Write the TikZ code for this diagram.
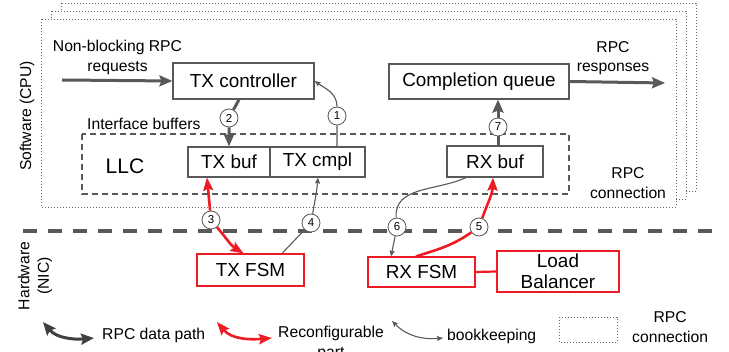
\documentclass[tikz,border=0pt]{standalone}
\usepackage{fontspec}
\setmainfont{Liberation Sans}
\usetikzlibrary{arrows.meta,calc}
\definecolor{dg}{RGB}{89,89,89}
\definecolor{ddg}{RGB}{64,64,64}
\definecolor{rd}{RGB}{237,28,36}
\definecolor{lg}{RGB}{105,105,105}
\begin{document}
\begin{tikzpicture}[x=1pt,y=-1pt,
  big/.style={font=\fontsize{18.9}{21}\selectfont},
  small/.style={font=\fontsize{15.7}{19.5}\selectfont},
  box/.style={draw=dg, line width=1.2pt, fill=white, big, inner sep=0pt},
  rbox/.style={draw=rd, line width=1.1pt, fill=white, big, inner sep=0pt},
  num/.style={circle, draw=dg, line width=0.8pt, fill=white, inner sep=0pt, minimum size=18pt, font=\fontsize{11.5}{12}\selectfont},
  conn/.style={draw=lg, line width=0.9pt, dash pattern=on 1pt off 2pt, fill=white},
  thickarr/.style={draw=dg, line width=3pt, -{Stealth[length=13pt,width=11pt,inset=2pt]}},
  redline/.style={draw=rd, line width=2.6pt},
  redarr/.style={redline, -{Stealth[length=13pt,width=10pt,inset=2pt]}},
  redarrs/.style={redline, {Stealth[length=13pt,width=10pt,inset=2pt]}-},
  redarrb/.style={redline, {Stealth[length=13pt,width=10pt,inset=2pt]}-{Stealth[length=13pt,width=10pt,inset=2pt]}},
  thinarr/.style={draw=dg, line width=1.1pt, -{Stealth[length=6pt,width=5pt,inset=1pt]}},
  thinarrb/.style={draw=dg, line width=1.1pt, {Stealth[length=6pt,width=5pt,inset=1pt]}-{Stealth[length=6pt,width=5pt,inset=1pt]}},
  legthick/.style={draw=ddg, line width=3pt, {Stealth[length=13pt,width=11pt,inset=2pt]}-{Stealth[length=13pt,width=11pt,inset=2pt]}}
]
\useasboundingbox (0,0) rectangle (729,352);

% stacked RPC connection frames
\path[conn] (61,3) rectangle (696,191);
\path[conn] (51,11) rectangle (686,199);
\path[conn] (41,19) rectangle (676,207);

% interface buffers region
\draw[dg, line width=1.3pt, dash pattern=on 6pt off 4pt] (82,134) rectangle (569,194);

% separator
\draw[dg, line width=4pt, dash pattern=on 14pt off 11pt] (23,231) -- (712,231);

% labels
\node[small, rotate=90] (sw) at (27,116) {Software (CPU)};
\node[small, rotate=90, align=center] (hw) at (35,276) {Hardware\\(NIC)};
\node[small, align=center] (req) at (117.5,57.5) {Non-blocking RPC\\requests};
\node[small, align=center] (resp) at (613,58) {RPC\\responses};
\node[small, anchor=west, inner sep=0pt] (ib) at (87,124) {Interface buffers};
\node[font=\fontsize{21}{24}\selectfont] (llc) at (125,166) {LLC};
\node[small, align=center] (rc) at (628,183) {RPC\\connection};

% boxes
\node[box, minimum width=141pt, minimum height=36pt] (txctrl) at (243.5,81) {TX controller};
\node[box, minimum width=180pt, minimum height=35pt] (cq) at (479,81.5) {Completion queue};
\node[box, minimum width=82pt, minimum height=30pt] (txbuf) at (229,162) {TX buf};
\node[box, minimum width=95pt, minimum height=30pt] (txcmpl) at (317.5,162) {TX cmpl};
\node[box, minimum width=96pt, minimum height=31pt] (rxbuf) at (495,161.5) {RX buf};
\node[rbox, minimum width=107pt, minimum height=32pt] (txfsm) at (250.5,270) {TX FSM};
\node[rbox, minimum width=107pt, minimum height=30pt] (rxfsm) at (421.5,272) {RX FSM};
\node[rbox, minimum width=122pt, minimum height=41pt, align=center, font=\fontsize{18.9}{21}\selectfont] (lb) at (558,271.5) {Load\\Balancer};

% numbered circles
\node[num] (c1) at (337,116) {1};
\node[num] (c2) at (229,118) {2};
\node[num] (c3) at (211,220) {3};
\node[num] (c4) at (311,223) {4};
\node[num] (c5) at (479,227) {5};
\node[num] (c6) at (397,227) {6};
\node[num] (c7) at (498,127) {7};

% in/out arrows
\coordinate (inL) at (62,80);
\coordinate (outR) at (665,83);
\draw[thickarr] (inL) -- (txctrl.west);
\draw[thickarr] (cq.east) -- (outR);

% connectors
\draw[thinarr] (c1 |- txcmpl.north) -- (c1) to[out=90,in=-35] (txctrl.east);
\draw[thickarr] ([xshift=-4.5pt]txctrl.south) -- (c2) -- (txbuf.north);
\draw[redarrs] ([xshift=-22pt]txbuf.south) -- (c3);
\draw[redarr] (c3) to[out=-50,in=148] ([xshift=-7pt]txfsm.north);
\draw[thinarr] ([xshift=31.5pt]txfsm.north) -- (c4) to[out=80,in=-95] ([xshift=0.5pt]txcmpl.south);
\draw[thinarr] ([xshift=-29pt]rxbuf.south) to[out=-155,in=95] (c6) -- ([xshift=-30.5pt]rxfsm.north);
\draw[redarr] ([xshift=-5.5pt]rxfsm.north) to[out=18,in=-145] (c5) to[out=70,in=-92] ([xshift=-2pt]rxbuf.south);
\draw[thickarr] (c7 |- rxbuf.north) -- (c7) -- (c7 |- cq.south);
\draw[rd, line width=2.2pt] (rxfsm.east) -- (lb.west);

% legend
\coordinate (l1a) at (43,322);
\coordinate (l1b) at (94,338);
\draw[legthick] (l1a) to[out=-50,in=185] (l1b);
\node[small, anchor=west, inner sep=0pt] (lt1) at (102,335) {RPC data path};
\coordinate (l2a) at (217,322);
\coordinate (l2b) at (272,338);
\draw[redarrb] (l2a) to[out=-50,in=185] (l2b);
\node[small, align=center] (lt2) at (331,343.5) {Reconfigurable\\part};
\coordinate (l3a) at (392,321);
\coordinate (l3b) at (443,338);
\draw[thinarrb] (l3a) to[out=-45,in=185] (l3b);
\node[small, anchor=west, inner sep=0pt] (lt3) at (447,336) {bookkeeping};
\path[conn] (559,317) rectangle (617,342);
\node[small, align=center, anchor=west, inner sep=0pt] (lt4) at (632,327) {RPC\\connection};
\end{tikzpicture}
\end{document}
